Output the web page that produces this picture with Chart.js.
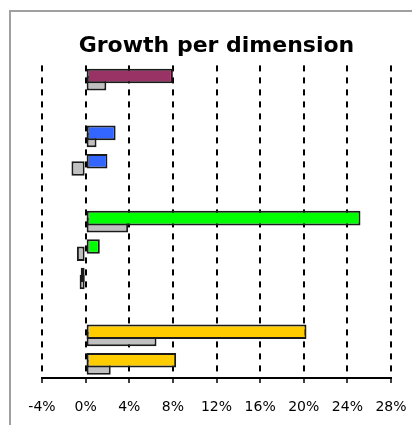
<!DOCTYPE html>
<html>
<head>
<meta charset="utf-8">
<script src="https://cdn.jsdelivr.net/npm/chart.js@4/dist/chart.umd.min.js"></script>
<style>
    html, body { margin: 0; padding: 0; background: #fff; overflow: hidden; }
    canvas { display: block; }
</style>
</head>
<body>
<canvas id="growth-chart" width="412" height="425"></canvas>
<script>
// Rows of the chart (empty rows are gaps between dimension groups)
const categories = ["Dim A", "", "Dim B1", "Dim B2", "", "Dim C1", "Dim C2", "Dim C3", "", "Dim D1", "Dim D2"];
// Growth in %, current period
const currentGrowth = [8.0, null, 2.75, 2.0, null, 25.2, 1.3, -0.45, null, 20.25, 8.3];
// Growth in %, previous period (grey bars)
const previousGrowth = [1.9, null, 1.0, -1.3, null, 3.9, -0.8, -0.55, null, 6.5, 2.3];
const barColors = ["#993366", null, "#3366ff", "#3366ff", null, "#00ff00", "#00ff00", "#00ff00", null, "#ffcc00", "#ffcc00"];
const xTicks = [-4, 0, 4, 8, 12, 16, 20, 24, 28];

document.addEventListener("DOMContentLoaded", function () {
    const ctx = document.getElementById("growth-chart").getContext("2d");

    // grey frame along the top and left edge
    const framePlugin = {
        id: "frame",
        beforeDraw: function (chart) {
            const c = chart.ctx;
            c.save();
            c.strokeStyle = "#a0a0a0";
            c.lineWidth = 2;
            c.beginPath();
            c.moveTo(10, chart.height);
            c.lineTo(10, 11);
            c.lineTo(chart.width, 11);
            c.stroke();
            c.restore();
        }
    };

    new Chart(ctx, {
        type: "bar",
        data: {
            labels: categories,
            datasets: [{
                label: "Current",
                data: currentGrowth,
                backgroundColor: barColors,
                borderColor: "#1a1a1a",
                borderWidth: 2,
                borderSkipped: false,
                categoryPercentage: 0.5,
                barPercentage: 2.05
            }, {
                label: "Previous",
                data: previousGrowth,
                backgroundColor: "#c0c0c0",
                borderColor: "#1a1a1a",
                borderWidth: 2,
                borderSkipped: false,
                categoryPercentage: 0.5,
                barPercentage: 2.05
            }]
        },
        options: {
            indexAxis: "y",
            responsive: false,
            animation: false,
            devicePixelRatio: 1,
            layout: {
                padding: { left: 42, right: 21, top: 10, bottom: 0 }
            },
            plugins: {
                legend: { display: false },
                tooltip: { enabled: false },
                title: {
                    display: true,
                    text: "Growth per dimension",
                    color: "#000",
                    font: { family: "DejaVu Sans", size: 22, weight: "bold" },
                    padding: { top: 23, bottom: 6 }
                }
            },
            scales: {
                y: {
                    display: false
                },
                x: {
                    min: xTicks[0],
                    max: xTicks[xTicks.length - 1],
                    afterBuildTicks: function (axis) {
                        axis.ticks = xTicks.map(v => ({ value: v }));
                    },
                    afterFit: function (axis) {
                        axis.height = 47;
                        axis.paddingLeft = 0;
                        axis.paddingRight = 0;
                    },
                    grid: {
                        color: "#000",
                        lineWidth: 2,
                        tickLength: 5,
                        tickColor: "#000",
                        tickWidth: 1.5,
                        tickBorderDash: []
                    },
                    border: {
                        display: true,
                        color: "#000",
                        width: 2,
                        dash: [6, 6]
                    },
                    ticks: {
                        color: "#000",
                        padding: 16,
                        maxRotation: 0,
                        font: { family: "DejaVu Sans", size: 14 },
                        callback: function (value) {
                            const v = Math.round(value);
                            return (v === 0 ? "0" : String(v)) + "%";
                        }
                    }
                }
            }
        },
        plugins: [framePlugin]
    });
});
</script>
</body>
</html>
